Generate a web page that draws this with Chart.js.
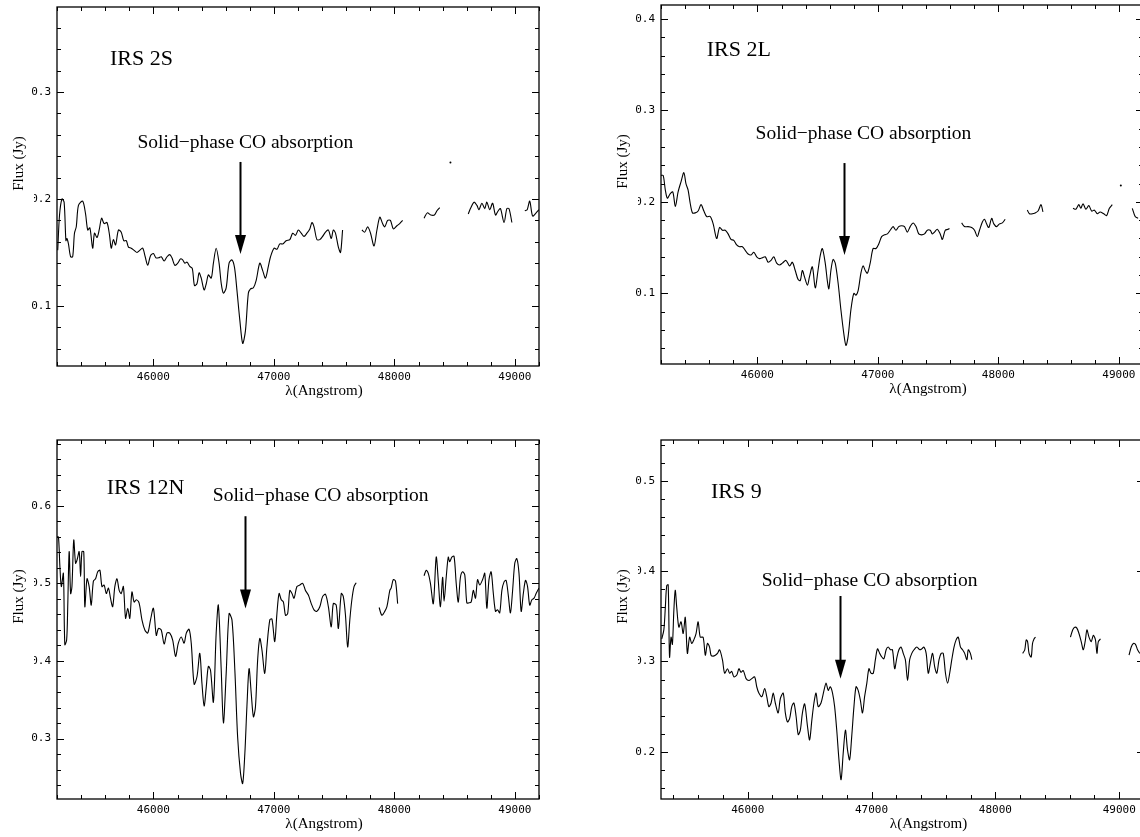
<!DOCTYPE html>
<html>
<head>
<meta charset="utf-8">
<title>Solid-phase CO absorption spectra</title>
<script src="https://cdn.jsdelivr.net/npm/chart.js@4.4.1/dist/chart.umd.min.js"></script>
<style>
  html, body { margin: 0; padding: 0; background: #fff; }
  #page { position: relative; width: 1140px; height: 837px; overflow: hidden; background: #fff; }
  #page canvas { position: absolute; }
</style>
</head>
<body>
<div id="page">
  <canvas id="c2S" width="545" height="410" style="left:0px;top:0px"></canvas>
  <canvas id="c2L" width="545" height="410" style="left:604px;top:0px"></canvas>
  <canvas id="c12N" width="545" height="417" style="left:0px;top:420px"></canvas>
  <canvas id="c9" width="546" height="417" style="left:604px;top:420px"></canvas>
</div>
<script>
// wavelengths in Angstrom, flux in Jy; null marks a gap in the spectrum

// IRS 2S
const wl2S = [
  45206, 45221, 45241, 45259, 45274, 45283, 45295, 45313, 45330, 45345,
  45360, 45378, 45413, 45437, 45455, 45473, 45496, 45511, 45532, 45550,
  45570, 45591, 45615, 45636, 45650, 45668, 45686, 45710, 45733, 45754,
  45775, 45793, 45816, 45840, 45864, 45887, 45911, 45932, 45953, 45976,
  46000, 46021, 46044, 46065, 46089, 46113, 46136, 46154, 46178, 46202,
  46225, 46243, 46261, 46279, 46302, 46323, 46341, 46362, 46379, 46397,
  46421, 46439, 46456, 46480, 46498, 46521, 46545, 46563, 46581, 46604,
  46628, 46652, 46673, 46693, 46717, 46741, 46764, 46788, 46806, 46830,
  46853, 46883, 46907, 46930, 46954, 46972, 47002, 47025, 47049, 47073,
  47102, 47132, 47156, 47179, 47203, 47227, 47250, 47274, 47298, 47316,
  47333, 47357, 47381, 47404, 47428, 47452, 47476, 47493, 47511, 47535,
  47553, 47570, null, 47730, 47754, 47778, 47802, 47831, 47855, 47879,
  47902, 47920, 47944, 47967, 47991, 48021, 48044, 48068, null, 48246,
  48273, 48302, 48332, 48353, 48376, null, 48613, 48631, 48661, 48685,
  48702, 48726, 48750, 48767, 48791, 48815, 48839, 48862, 48880, 48910,
  48933, 48951, 48975, null, 49082, 49102, 49123, 49147, 49176, 49200
];
const flux2S = [
  0.152, 0.185, 0.200, 0.197, 0.161, 0.163, 0.158, 0.146, 0.146, 0.168,
  0.174, 0.194, 0.198, 0.186, 0.171, 0.173, 0.154, 0.168, 0.164, 0.171,
  0.182, 0.177, 0.178, 0.166, 0.154, 0.162, 0.157, 0.171, 0.169, 0.161,
  0.161, 0.155, 0.154, 0.152, 0.150, 0.152, 0.154, 0.146, 0.138, 0.147,
  0.149, 0.145, 0.145, 0.146, 0.142, 0.146, 0.148, 0.145, 0.138, 0.140,
  0.144, 0.143, 0.140, 0.141, 0.137, 0.135, 0.119, 0.121, 0.131, 0.126,
  0.115, 0.121, 0.129, 0.126, 0.140, 0.154, 0.140, 0.121, 0.112, 0.117,
  0.140, 0.143, 0.136, 0.115, 0.087, 0.065, 0.077, 0.112, 0.116, 0.117,
  0.124, 0.140, 0.133, 0.126, 0.137, 0.146, 0.154, 0.153, 0.158, 0.158,
  0.161, 0.162, 0.168, 0.166, 0.171, 0.168, 0.165, 0.168, 0.172, 0.178,
  0.174, 0.162, 0.162, 0.165, 0.169, 0.171, 0.163, 0.171, 0.168, 0.155,
  0.150, 0.171, null, 0.171, 0.169, 0.174, 0.168, 0.156, 0.171, 0.183,
  0.177, 0.174, 0.180, 0.180, 0.172, 0.175, 0.177, 0.180, null, 0.182,
  0.187, 0.185, 0.185, 0.189, 0.192, null, 0.186, 0.191, 0.197, 0.194,
  0.190, 0.196, 0.191, 0.197, 0.190, 0.196, 0.185, 0.189, 0.191, 0.178,
  0.191, 0.191, 0.178, null, 0.189, 0.190, 0.198, 0.184, 0.187, 0.190
];
const dots2S = [[48465, 0.234]];

// IRS 2L
const wl2L = [
  45200, 45218, 45236, 45253, 45277, 45298, 45319, 45342, 45366, 45390,
  45407, 45425, 45443, 45461, 45484, 45508, 45532, 45556, 45579, 45609,
  45633, 45662, 45686, 45710, 45733, 45757, 45781, 45804, 45828, 45852,
  45876, 45899, 45923, 45947, 45970, 45994, 46018, 46042, 46065, 46089,
  46113, 46136, 46160, 46184, 46207, 46237, 46267, 46290, 46314, 46338,
  46356, 46373, 46391, 46415, 46432, 46456, 46480, 46503, 46521, 46539,
  46563, 46581, 46593, 46610, 46628, 46646, 46670, 46693, 46717, 46735,
  46753, 46776, 46800, 46818, 46836, 46859, 46877, 46895, 46913, 46936,
  46960, 46984, 47007, 47031, 47055, 47079, 47102, 47126, 47150, 47173,
  47197, 47221, 47244, 47268, 47292, 47316, 47339, 47363, 47387, 47410,
  47434, 47452, 47470, 47493, 47517, 47535, 47559, 47582, 47594, null,
  47695, 47719, 47748, 47778, 47802, 47825, 47843, 47867, 47885, 47902,
  47920, 47944, 47962, 47985, 48009, 48033, 48056, null, 48240, 48258,
  48282, 48305, 48329, 48353, 48370, null, 48619, 48643, 48667, 48684,
  48702, 48726, 48750, 48774, 48797, 48821, 48844, 48874, 48898, 48921,
  48945, null, 49111, 49135, 49159
];
const flux2L = [
  0.229, 0.229, 0.213, 0.204, 0.209, 0.211, 0.195, 0.211, 0.222, 0.232,
  0.220, 0.213, 0.198, 0.188, 0.188, 0.190, 0.197, 0.190, 0.184, 0.184,
  0.176, 0.160, 0.172, 0.169, 0.169, 0.165, 0.159, 0.158, 0.153, 0.151,
  0.151, 0.147, 0.143, 0.142, 0.145, 0.140, 0.138, 0.139, 0.140, 0.134,
  0.136, 0.140, 0.133, 0.131, 0.133, 0.136, 0.130, 0.134, 0.125, 0.115,
  0.114, 0.125, 0.118, 0.109, 0.118, 0.129, 0.106, 0.125, 0.141, 0.149,
  0.133, 0.113, 0.105, 0.125, 0.137, 0.133, 0.111, 0.082, 0.056, 0.043,
  0.053, 0.082, 0.100, 0.098, 0.103, 0.122, 0.130, 0.125, 0.122, 0.133,
  0.149, 0.149, 0.154, 0.162, 0.164, 0.165, 0.169, 0.173, 0.169, 0.173,
  0.174, 0.173, 0.167, 0.173, 0.177, 0.173, 0.165, 0.164, 0.165, 0.169,
  0.169, 0.165, 0.167, 0.170, 0.165, 0.159, 0.169, 0.170, 0.171, null,
  0.177, 0.173, 0.173, 0.172, 0.169, 0.162, 0.169, 0.178, 0.181, 0.176,
  0.172, 0.182, 0.176, 0.173, 0.176, 0.177, 0.181, null, 0.191, 0.187,
  0.187, 0.188, 0.190, 0.197, 0.189, null, 0.193, 0.192, 0.197, 0.193,
  0.198, 0.192, 0.196, 0.190, 0.191, 0.187, 0.189, 0.187, 0.185, 0.193,
  0.197, null, 0.193, 0.184, 0.182
];
const dots2L = [[49016, 0.218]];

// IRS 12N
const wl12N = [
  45200, 45212, 45224, 45236, 45253, 45265, 45280, 45289, 45301, 45313,
  45324, 45339, 45354, 45366, 45384, 45396, 45407, 45422, 45431, 45449,
  45467, 45484, 45502, 45520, 45538, 45556, 45573, 45591, 45609, 45627,
  45644, 45662, 45680, 45698, 45716, 45733, 45751, 45769, 45787, 45804,
  45822, 45840, 45858, 45881, 45905, 45929, 45953, 45976, 46000, 46024,
  46042, 46065, 46089, 46113, 46136, 46160, 46184, 46207, 46231, 46255,
  46273, 46296, 46314, 46338, 46362, 46385, 46403, 46421, 46439, 46456,
  46474, 46498, 46521, 46539, 46563, 46581, 46604, 46628, 46652, 46676,
  46699, 46723, 46741, 46759, 46776, 46794, 46812, 46830, 46847, 46865,
  46883, 46901, 46924, 46942, 46966, 46984, 47007, 47025, 47043, 47061,
  47079, 47096, 47114, 47132, 47150, 47167, 47191, 47215, 47239, 47262,
  47286, 47310, 47333, 47357, 47381, 47404, 47428, 47452, 47476, 47493,
  47517, 47535, 47559, 47576, 47594, 47612, 47630, 47647, 47665, 47683,
  null, 47873, 47896, 47920, 47938, 47962, 47973, 47991, 48009, 48027,
  null, 48246, 48264, 48281, 48299, 48323, 48347, 48364, 48382, 48400,
  48412, 48430, 48447, 48459, 48477, 48495, 48513, 48530, 48548, 48566,
  48584, 48601, 48619, 48637, 48655, 48673, 48690, 48708, 48732, 48750,
  48767, 48785, 48803, 48821, 48839, 48856, 48874, 48892, 48910, 48927,
  48945, 48963, 48981, 48999, 49016, 49034, 49052, 49070, 49088, 49105,
  49123, 49141, 49159, 49176, 49200
];
const flux12N = [
  0.560, 0.560, 0.522, 0.496, 0.513, 0.421, 0.427, 0.470, 0.541, 0.487,
  0.496, 0.556, 0.526, 0.530, 0.541, 0.509, 0.541, 0.541, 0.470, 0.506,
  0.496, 0.472, 0.503, 0.506, 0.515, 0.517, 0.496, 0.498, 0.487, 0.494,
  0.481, 0.470, 0.496, 0.506, 0.491, 0.487, 0.496, 0.455, 0.468, 0.455,
  0.489, 0.476, 0.479, 0.475, 0.453, 0.440, 0.436, 0.453, 0.468, 0.433,
  0.442, 0.440, 0.422, 0.436, 0.436, 0.427, 0.406, 0.423, 0.431, 0.423,
  0.436, 0.441, 0.423, 0.370, 0.380, 0.410, 0.371, 0.342, 0.367, 0.393,
  0.388, 0.347, 0.436, 0.472, 0.388, 0.320, 0.384, 0.461, 0.453, 0.388,
  0.302, 0.255, 0.242, 0.281, 0.341, 0.390, 0.358, 0.328, 0.341, 0.401,
  0.429, 0.414, 0.384, 0.418, 0.453, 0.454, 0.425, 0.461, 0.487, 0.479,
  0.476, 0.459, 0.461, 0.491, 0.487, 0.481, 0.496, 0.498, 0.500, 0.491,
  0.485, 0.474, 0.466, 0.464, 0.470, 0.483, 0.486, 0.470, 0.444, 0.474,
  0.472, 0.442, 0.487, 0.483, 0.459, 0.418, 0.453, 0.479, 0.496, 0.501,
  null, 0.469, 0.459, 0.464, 0.470, 0.491, 0.494, 0.505, 0.503, 0.474,
  null, 0.510, 0.517, 0.513, 0.500, 0.474, 0.534, 0.504, 0.470, 0.508,
  0.477, 0.508, 0.534, 0.528, 0.534, 0.535, 0.500, 0.476, 0.508, 0.515,
  0.511, 0.475, 0.475, 0.476, 0.491, 0.481, 0.505, 0.498, 0.505, 0.513,
  0.468, 0.505, 0.515, 0.487, 0.464, 0.466, 0.462, 0.491, 0.502, 0.504,
  0.485, 0.462, 0.491, 0.526, 0.532, 0.513, 0.464, 0.487, 0.504, 0.496,
  0.472, 0.479, 0.481, 0.487, 0.494
];

// IRS 9
const wl9 = [
  45306, 45323, 45335, 45346, 45358, 45369, 45381, 45392, 45404, 45415,
  45427, 45444, 45462, 45479, 45496, 45513, 45531, 45548, 45565, 45583,
  45600, 45617, 45640, 45658, 45675, 45692, 45704, 45721, 45739, 45756,
  45773, 45796, 45814, 45837, 45854, 45871, 45889, 45912, 45929, 45946,
  45964, 45987, 46010, 46033, 46056, 46073, 46090, 46114, 46137, 46154,
  46171, 46189, 46206, 46223, 46246, 46264, 46287, 46304, 46321, 46339,
  46356, 46373, 46391, 46408, 46425, 46442, 46460, 46483, 46500, 46518,
  46535, 46552, 46569, 46592, 46616, 46633, 46650, 46667, 46685, 46702,
  46719, 46737, 46754, 46771, 46789, 46806, 46823, 46840, 46858, 46875,
  46892, 46910, 46927, 46944, 46962, 46979, 46996, 47014, 47031, 47048,
  47066, 47083, 47100, 47118, 47135, 47152, 47169, 47187, 47204, 47221,
  47239, 47256, 47273, 47291, 47308, 47325, 47343, 47366, 47389, 47406,
  47423, 47441, 47458, 47475, 47493, 47510, 47527, 47545, 47562, 47579,
  47597, 47614, 47631, 47648, 47666, 47683, 47700, 47718, 47735, 47752,
  47770, 47781, 47798, 47810, null, 48220, 48237, 48249, 48260, 48272,
  48289, 48300, 48312, 48324, null, 48606, 48624, 48641, 48658, 48675,
  48693, 48710, 48727, 48739, 48756, 48774, 48791, 48808, 48820, 48831,
  48849, null, 49079, 49097, 49114, 49131, 49148, 49166
];
const flux9 = [
  0.325, 0.335, 0.360, 0.384, 0.385, 0.305, 0.327, 0.319, 0.357, 0.379,
  0.360, 0.338, 0.344, 0.331, 0.349, 0.309, 0.327, 0.320, 0.324, 0.331,
  0.344, 0.327, 0.327, 0.307, 0.320, 0.316, 0.307, 0.306, 0.307, 0.309,
  0.313, 0.302, 0.287, 0.292, 0.287, 0.289, 0.283, 0.285, 0.292, 0.288,
  0.290, 0.281, 0.279, 0.281, 0.283, 0.272, 0.265, 0.261, 0.270, 0.261,
  0.250, 0.254, 0.265, 0.254, 0.243, 0.259, 0.265, 0.243, 0.233, 0.237,
  0.250, 0.254, 0.239, 0.219, 0.224, 0.243, 0.253, 0.228, 0.213, 0.235,
  0.254, 0.265, 0.250, 0.254, 0.268, 0.276, 0.268, 0.272, 0.265, 0.250,
  0.224, 0.191, 0.169, 0.198, 0.224, 0.202, 0.191, 0.217, 0.250, 0.272,
  0.268, 0.257, 0.243, 0.261, 0.276, 0.292, 0.287, 0.287, 0.302, 0.314,
  0.309, 0.305, 0.303, 0.313, 0.316, 0.313, 0.313, 0.292, 0.304, 0.313,
  0.316, 0.309, 0.302, 0.279, 0.302, 0.309, 0.313, 0.316, 0.313, 0.314,
  0.316, 0.309, 0.287, 0.298, 0.309, 0.294, 0.287, 0.302, 0.309, 0.309,
  0.287, 0.276, 0.287, 0.302, 0.316, 0.324, 0.327, 0.316, 0.313, 0.309,
  0.302, 0.313, 0.309, 0.302, null, 0.309, 0.313, 0.324, 0.322, 0.309,
  0.305, 0.320, 0.325, 0.327, null, 0.327, 0.335, 0.338, 0.337, 0.331,
  0.322, 0.313, 0.324, 0.335, 0.327, 0.322, 0.329, 0.324, 0.309, 0.322,
  0.325, null, 0.307, 0.316, 0.320, 0.319, 0.313, 0.309
];

// axis ticks: minor every 200 A / 0.02 Jy, labelled every 1000 A / 0.1 Jy
const xStep = 200, xMajor = 1000;
const yStep = 0.02, yMajorEvery = 5;

const note = 'Solid\u2212phase CO absorption';
const serif = '"Liberation Serif", "Times New Roman", serif';
const tickFont = { family: '"DejaVu Sans Mono", monospace', size: 11 };

const panels = [
  { canvas: 'c2S', name: 'IRS 2S', wl: wl2S, flux: flux2S, dots: dots2S,
    xMin: 45200, xMax: 49200, yMin: 0.0439, yMax: 0.3794, padTop: 7, axisH: 44,
    nameAt: [45640, 0.325], noteAt: [45868, 0.2474], arrow: [46720, 0.2346, 0.1486] },
  { canvas: 'c2L', name: 'IRS 2L', wl: wl2L, flux: flux2L, dots: dots2L,
    xMin: 45200, xMax: 49200, yMin: 0.0227, yMax: 0.4154, padTop: 5, axisH: 46,
    nameAt: [45580, 0.3593], noteAt: [45985, 0.2689], arrow: [46717, 0.2425, 0.1418] },
  { canvas: 'c12N', name: 'IRS 12N', wl: wl12N, flux: flux12N, dots: [],
    xMin: 45200, xMax: 49200, yMin: 0.222, yMax: 0.685, padTop: 20, axisH: 38,
    nameAt: [45612, 0.615], noteAt: [46493, 0.606], arrow: [46759, 0.5867, 0.4678] },
  { canvas: 'c9', name: 'IRS 9', wl: wl9, flux: flux9, dots: [],
    xMin: 45300, xMax: 49200, yMin: 0.1476, yMax: 0.5455, padTop: 20, axisH: 38,
    nameAt: [45704, 0.4808], noteAt: [46113, 0.3837], arrow: [46748, 0.3726, 0.281] }
];

function isMajorY(v) {
  return Math.abs(v * 10 - Math.round(v * 10)) < 1e-6;
}

// frame with inward ticks on all sides, plus the labels and arrow
function decorFor(p) {
  return {
    id: 'decor',
    afterDraw(chart) {
      const { ctx, chartArea: a, scales: { x, y } } = chart;
      const midX = (a.left + a.right) / 2;
      const midY = (a.top + a.bottom) / 2;
      ctx.save();

      ctx.strokeStyle = '#000';
      ctx.lineWidth = 1.3;
      ctx.strokeRect(a.left, a.top, a.right - a.left, a.bottom - a.top);

      ctx.lineWidth = 1;
      ctx.beginPath();
      for (let k = Math.ceil(x.min / xStep); k * xStep <= x.max; k++) {
        const v = k * xStep;
        const px = Math.round(x.getPixelForValue(v)) + 0.5;
        const len = v % xMajor === 0 ? 7 : 4;
        ctx.moveTo(px, a.bottom); ctx.lineTo(px, a.bottom - len);
        ctx.moveTo(px, a.top); ctx.lineTo(px, a.top + len);
      }
      for (let k = Math.ceil(y.min / yStep - 1e-6); k * yStep <= y.max + 1e-9; k++) {
        const py = Math.round(y.getPixelForValue(k * yStep)) + 0.5;
        const len = k % yMajorEvery === 0 ? 7 : 4;
        ctx.moveTo(a.left, py); ctx.lineTo(a.left + len, py);
        ctx.moveTo(a.right, py); ctx.lineTo(a.right - len, py);
      }
      ctx.stroke();

      // y title box hides part of the nearby tick labels, as in the original
      ctx.fillStyle = '#fff';
      ctx.fillRect(a.left - 54, midY - 70, 31, 140);

      ctx.fillStyle = '#000';
      ctx.font = '15px ' + serif;
      ctx.textAlign = 'center';
      ctx.textBaseline = 'alphabetic';
      ctx.fillText('\u03bb(Angstrom)', midX + 26, a.bottom + 29);

      ctx.save();
      ctx.translate(a.left - 38, midY - 23);
      ctx.rotate(-Math.PI / 2);
      ctx.textBaseline = 'middle';
      ctx.fillText('Flux (Jy)', 0, 0);
      ctx.restore();

      ctx.textAlign = 'left';
      ctx.font = '22px ' + serif;
      ctx.fillText(p.name, x.getPixelForValue(p.nameAt[0]), y.getPixelForValue(p.nameAt[1]));
      ctx.font = '19.5px ' + serif;
      ctx.fillText(note, x.getPixelForValue(p.noteAt[0]), y.getPixelForValue(p.noteAt[1]));

      // arrow pointing at the absorption
      const ax = Math.round(x.getPixelForValue(p.arrow[0])) + 0.5;
      const top = y.getPixelForValue(p.arrow[1]);
      const tip = y.getPixelForValue(p.arrow[2]);
      ctx.lineWidth = 2;
      ctx.beginPath();
      ctx.moveTo(ax, top);
      ctx.lineTo(ax, tip - 15);
      ctx.stroke();
      ctx.beginPath();
      ctx.moveTo(ax - 5.5, tip - 19);
      ctx.lineTo(ax + 5.5, tip - 19);
      ctx.lineTo(ax, tip);
      ctx.closePath();
      ctx.fill();

      ctx.restore();
    }
  };
}

function drawPanel(p) {
  const points = p.wl.map((w, i) => ({ x: w, y: p.flux[i] }));
  new Chart(document.getElementById(p.canvas), {
    type: 'line',
    data: {
      datasets: [
        {
          data: points,
          borderColor: '#000',
          borderWidth: 1.1,
          pointRadius: 0,
          tension: 0.3,
          spanGaps: false,
          fill: false
        },
        {
          data: p.dots.map(d => ({ x: d[0], y: d[1] })),
          showLine: false,
          pointRadius: 1,
          pointBorderWidth: 0,
          pointBackgroundColor: '#000'
        }
      ]
    },
    options: {
      responsive: false,
      animation: false,
      events: [],
      layout: { padding: { top: p.padTop, right: 6, left: 0, bottom: 0 } },
      plugins: { legend: { display: false }, tooltip: { enabled: false } },
      scales: {
        x: {
          type: 'linear',
          min: p.xMin,
          max: p.xMax,
          grid: { display: false, drawTicks: false },
          border: { display: false },
          ticks: {
            stepSize: xStep,
            autoSkip: false,
            maxRotation: 0,
            includeBounds: false,
            padding: 5,
            color: '#000',
            font: tickFont,
            callback: v => (v % xMajor === 0 ? String(v) : null)
          },
          afterFit(s) {
            s.height = p.axisH;
            s.paddingLeft = 0; s.paddingRight = 0;
          }
        },
        y: {
          type: 'linear',
          min: p.yMin,
          max: p.yMax,
          grid: { display: false, drawTicks: false },
          border: { display: false },
          ticks: {
            stepSize: yStep,
            autoSkip: false,
            includeBounds: false,
            padding: 6,
            color: '#000',
            font: tickFont,
            callback: v => (isMajorY(v) ? v.toFixed(1) : null)
          },
          afterFit(s) {
            s.width = 57;
            s.paddingTop = 0; s.paddingBottom = 0;
          }
        }
      }
    },
    plugins: [decorFor(p)]
  });
}

panels.forEach(drawPanel);
</script>
</body>
</html>
